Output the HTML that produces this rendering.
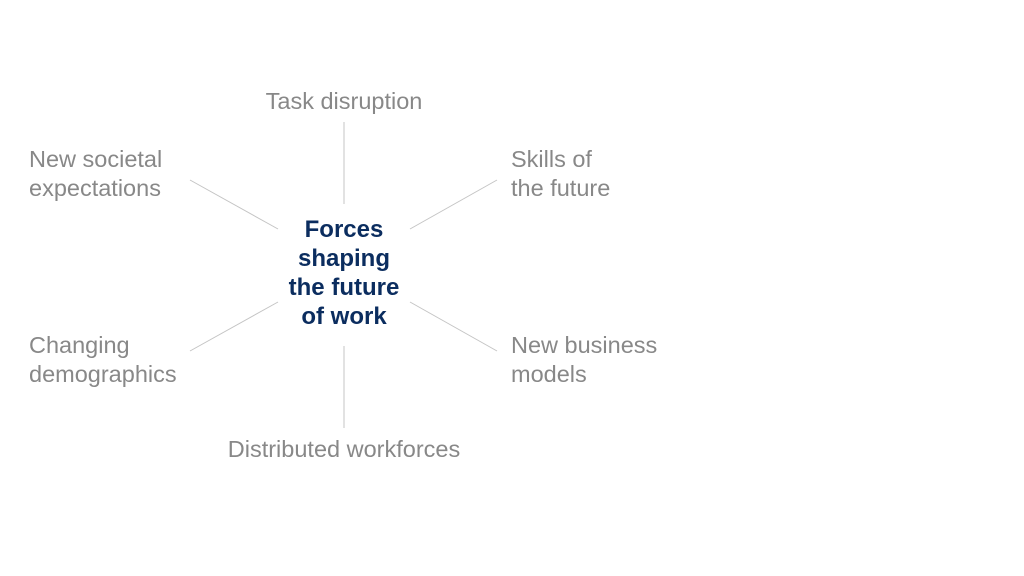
<!DOCTYPE html>
<html><head><meta charset="utf-8"><style>
body{margin:0;width:1024px;height:576px;background:#fff;position:relative;overflow:hidden;font-family:"Liberation Sans",sans-serif;}
.t{position:absolute;color:#888;font-size:23.5px;line-height:29px;white-space:nowrap;}
.c{position:absolute;color:#0b2d5f;font-weight:bold;font-size:24px;line-height:29px;text-align:center;width:200px;left:244px;top:215px;}
</style></head><body>
<svg width="1024" height="576" style="position:absolute;left:0;top:0">
<g stroke="#c4c4c4" stroke-width="1">
<line x1="344" y1="122" x2="344" y2="204"/>
<line x1="344" y1="346" x2="344" y2="428"/>
<line x1="190" y1="180" x2="278" y2="229"/>
<line x1="410" y1="229" x2="497" y2="180"/>
<line x1="190" y1="351" x2="278" y2="302"/>
<line x1="410" y1="302" x2="497" y2="351"/>
</g></svg>
<div class="t" style="left:194px;width:300px;text-align:center;top:87px">Task disruption</div>
<div class="t" style="left:29px;top:145px">New societal<br>expectations</div>
<div class="t" style="left:511px;top:145px">Skills of<br>the future</div>
<div class="t" style="left:29px;top:331px">Changing<br>demographics</div>
<div class="t" style="left:511px;top:331px">New business<br>models</div>
<div class="t" style="left:194px;width:300px;text-align:center;top:435px">Distributed workforces</div>
<div class="c">Forces<br>shaping<br>the future<br>of work</div>
</body></html>
